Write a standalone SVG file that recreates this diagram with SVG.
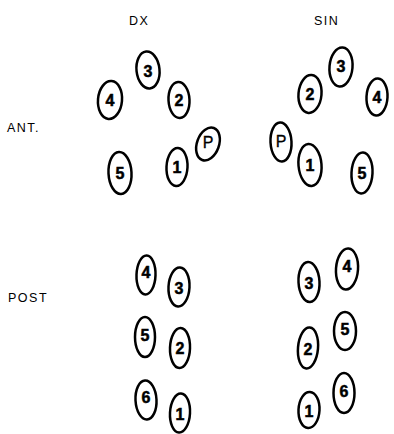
<svg xmlns="http://www.w3.org/2000/svg" width="394" height="434" viewBox="0 0 394 434">
<style>
.o{fill:#fff;stroke:#000;stroke-width:2.5}
.n{font-family:"Liberation Sans",Arial,sans-serif;font-weight:bold;font-size:16px;text-anchor:middle;dominant-baseline:central;fill:#000;stroke:#000;stroke-width:0.5}
.p{font-weight:normal;stroke-width:0.3}
.h{font-family:"Liberation Sans",Arial,sans-serif;font-size:12.5px;fill:#000;letter-spacing:1.5px}
</style>
<rect width="394" height="434" fill="#fff"/>
<text class="h" x="129" y="25">DX</text>
<text class="h" x="314" y="25">SIN</text>
<text class="h" x="7" y="132">ANT.</text>
<text class="h" x="8" y="302">POST</text>
<g id="ant-dx">
<g id="dx3" transform="translate(148,70)"><ellipse class="o" rx="11.5" ry="18.5" transform="rotate(-6)"/><text class="n" y="1">3</text></g>
<g id="dx4" transform="translate(110,100)"><ellipse class="o" rx="12" ry="19" transform="rotate(5)"/><text class="n" y="0">4</text></g>
<g id="dx2" transform="translate(179,100)"><ellipse class="o" rx="10.5" ry="18" transform="rotate(-3)"/><text class="n" y="0">2</text></g>
<g id="dxP" transform="translate(208,144)"><ellipse class="o" rx="11" ry="17" transform="rotate(20)"/><text class="n p" y="-2">P</text></g>
<g id="dx1" transform="translate(177,167)"><ellipse class="o" rx="10.5" ry="19" transform="rotate(3)"/><text class="n" y="0">1</text></g>
<g id="dx5" transform="translate(120,173)"><ellipse class="o" rx="11.5" ry="21" transform="rotate(-3)"/><text class="n" y="0">5</text></g>
</g>
<g id="ant-sin">
<g id="sin3" transform="translate(341,67)"><ellipse class="o" rx="11.5" ry="19.5" transform="rotate(5)"/><text class="n" y="-1">3</text></g>
<g id="sin2" transform="translate(310,94)"><ellipse class="o" rx="11.5" ry="19" transform="rotate(5)"/><text class="n" y="0">2</text></g>
<g id="sin4" transform="translate(377,97)"><ellipse class="o" rx="10.5" ry="18.5" transform="rotate(3)"/><text class="n" y="0">4</text></g>
<g id="sinP" transform="translate(281,142)"><ellipse class="o" rx="10.5" ry="19.5" transform="rotate(-3)"/><text class="n p" y="-1">P</text></g>
<g id="sin1" transform="translate(310,165)"><ellipse class="o" rx="11.5" ry="21" transform="rotate(-5)"/><text class="n" y="0">1</text></g>
<g id="sin5" transform="translate(362,173)"><ellipse class="o" rx="10.5" ry="20.5" transform="rotate(3)"/><text class="n" y="0">5</text></g>
</g>
<g id="post-dx">
<g id="pdx4" transform="translate(146,275)"><ellipse class="o" rx="9.5" ry="19.5" transform="rotate(2)"/><text class="n" y="-3">4</text></g>
<g id="pdx3" transform="translate(179,287)"><ellipse class="o" rx="10.5" ry="19.5" transform="rotate(3)"/><text class="n" y="1">3</text></g>
<g id="pdx5" transform="translate(145,337)"><ellipse class="o" rx="10" ry="20"/><text class="n" y="-2">5</text></g>
<g id="pdx2" transform="translate(180,348)"><ellipse class="o" rx="10" ry="20" transform="rotate(2)"/><text class="n" y="0">2</text></g>
<g id="pdx6" transform="translate(146,400)"><ellipse class="o" rx="10.5" ry="19.5" transform="rotate(-3)"/><text class="n" y="-3">6</text></g>
<g id="pdx1" transform="translate(180,413)"><ellipse class="o" rx="10" ry="19.5" transform="rotate(3)"/><text class="n" y="1">1</text></g>
</g>
<g id="post-sin">
<g id="psin3" transform="translate(309,282)"><ellipse class="o" rx="10.5" ry="20" transform="rotate(-3)"/><text class="n" y="1">3</text></g>
<g id="psin4" transform="translate(347,269)"><ellipse class="o" rx="11" ry="20.5" transform="rotate(4)"/><text class="n" y="-3">4</text></g>
<g id="psin2" transform="translate(308,348)"><ellipse class="o" rx="10" ry="20.5" transform="rotate(5)"/><text class="n" y="1">2</text></g>
<g id="psin5" transform="translate(345,331)"><ellipse class="o" rx="11" ry="19"/><text class="n" y="-2">5</text></g>
<g id="psin1" transform="translate(309,410)"><ellipse class="o" rx="10.5" ry="18" transform="rotate(3)"/><text class="n" y="1">1</text></g>
<g id="psin6" transform="translate(344,393)"><ellipse class="o" rx="10.5" ry="20"/><text class="n" y="-2">6</text></g>
</g>
</svg>
